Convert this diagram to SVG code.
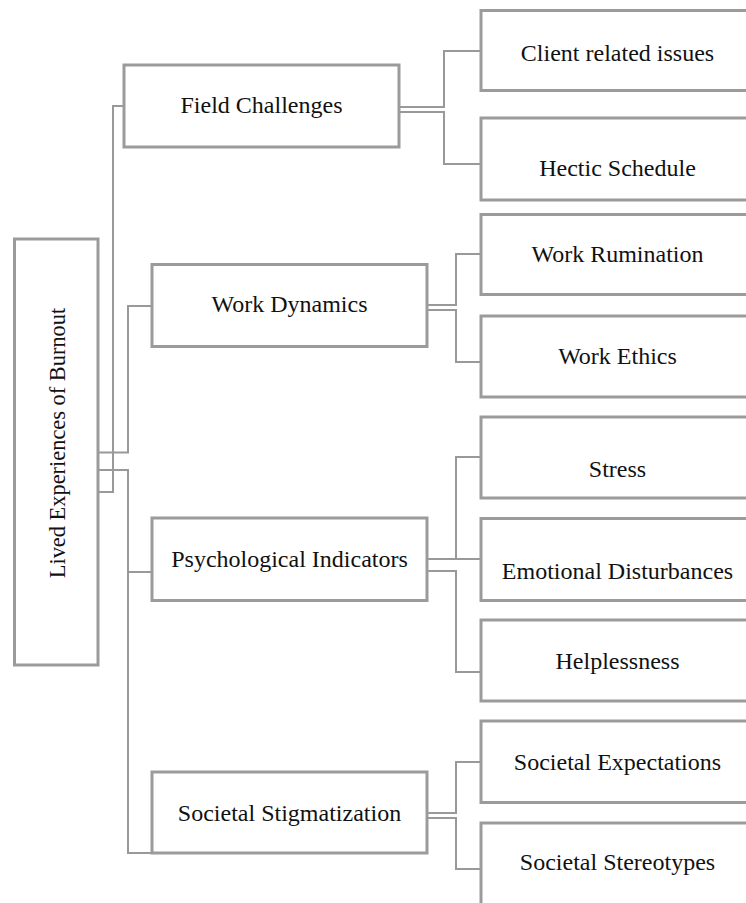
<svg xmlns="http://www.w3.org/2000/svg" width="746" height="903" viewBox="0 0 746 903">
<style>
.box{fill:#fff;stroke:#9b9b9b;stroke-width:3}
.lbl{font-family:"Liberation Serif","Times New Roman",serif;font-size:24px;fill:#111;text-anchor:middle}
.con{fill:none;stroke:#999;stroke-width:2}
</style>
<rect width="746" height="903" fill="#fff"/>
<g id="connectors">
<path class="con" d="M98,492 H113 V106 H124"/>
<path class="con" d="M98,452.5 H128 V306 H152"/>
<path class="con" d="M98,470 H128 V572 H152"/>
<path class="con" d="M98,470 H128 V853 H152"/>
<path class="con" d="M399,107 H444 V51 H481"/>
<path class="con" d="M399,112 H444 V164 H481"/>
<path class="con" d="M427,305 H456 V254 H481"/>
<path class="con" d="M427,310 H456 V362 H481"/>
<path class="con" d="M427,559 H456 V457 H481"/>
<path class="con" d="M427,559 H481"/>
<path class="con" d="M427,571 H456 V672 H481"/>
<path class="con" d="M427,813 H456 V762 H481"/>
<path class="con" d="M427,818 H456 V869 H481"/>
</g>
<g id="root">
<rect class="box" x="14.5" y="239" width="83.5" height="426"/>
<text class="lbl" style="font-size:22.4px" transform="translate(64.5,443) rotate(-90)">Lived Experiences of Burnout</text>
</g>
<g id="field-challenges">
<rect class="box" x="124" y="65" width="275" height="82"/>
<text class="lbl" x="261.5" y="113">Field Challenges</text>
</g>
<g id="work-dynamics">
<rect class="box" x="152" y="264.5" width="275" height="82"/>
<text class="lbl" x="289.5" y="312">Work Dynamics</text>
</g>
<g id="psychological-indicators">
<rect class="box" x="152" y="518" width="275" height="82.5"/>
<text class="lbl" x="289.5" y="567">Psychological Indicators</text>
</g>
<g id="societal-stigmatization">
<rect class="box" x="152" y="772" width="275" height="81"/>
<text class="lbl" x="289.5" y="821">Societal Stigmatization</text>
</g>
<g id="client-related-issues">
<rect class="box" x="481" y="10.5" width="290" height="80"/>
<text class="lbl" x="617.5" y="61">Client related issues</text>
</g>
<g id="hectic-schedule">
<rect class="box" x="481" y="118" width="290" height="82"/>
<text class="lbl" x="617.5" y="176">Hectic Schedule</text>
</g>
<g id="work-rumination">
<rect class="box" x="481" y="214.5" width="290" height="80"/>
<text class="lbl" x="617.5" y="262">Work Rumination</text>
</g>
<g id="work-ethics">
<rect class="box" x="481" y="316" width="290" height="81"/>
<text class="lbl" x="617.5" y="363.5">Work Ethics</text>
</g>
<g id="stress">
<rect class="box" x="481" y="417" width="290" height="81"/>
<text class="lbl" x="617.5" y="477">Stress</text>
</g>
<g id="emotional-disturbances">
<rect class="box" x="481" y="518.5" width="290" height="82"/>
<text class="lbl" x="617.5" y="578.5">Emotional Disturbances</text>
</g>
<g id="helplessness">
<rect class="box" x="481" y="620" width="290" height="81"/>
<text class="lbl" x="617.5" y="668.5">Helplessness</text>
</g>
<g id="societal-expectations">
<rect class="box" x="481" y="721" width="290" height="81.5"/>
<text class="lbl" x="617.5" y="770">Societal Expectations</text>
</g>
<g id="societal-stereotypes">
<rect class="box" x="481" y="823" width="290" height="90"/>
<text class="lbl" x="617.5" y="870">Societal Stereotypes</text>
</g>
</svg>
